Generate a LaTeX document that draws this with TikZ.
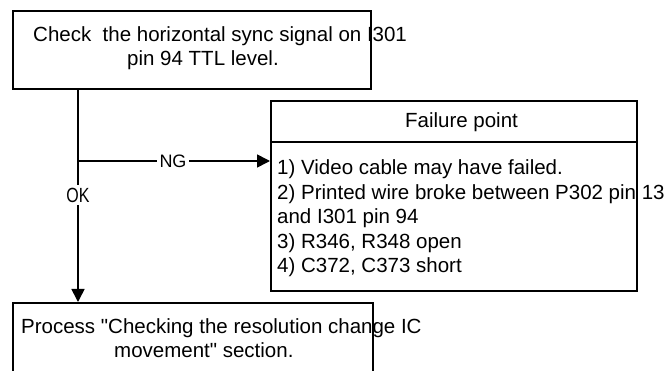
\documentclass[tikz,border=0pt]{standalone}
\usepackage{fontspec}
\setmainfont{Liberation Sans}
\usetikzlibrary{arrows.meta}
\begin{document}
\begin{tikzpicture}[x=1pt,y=-1pt,
  box/.style={draw, line width=1.6pt, inner sep=0pt, anchor=north west},
  txt/.style={font=\fontsize{20.5}{24}\selectfont, inner sep=0pt, anchor=base west},
  lbl/.style={font=\fontsize{18}{20}\selectfont, fill=white, inner sep=2.5pt},
  wire/.style={line width=1.6pt},
  flow/.style={wire, -{Triangle[length=13pt,width=13pt]}}]
\useasboundingbox (0,0) rectangle (669,371);

% boxes
\node[box, minimum width=358pt, minimum height=78pt] (check) at (12,10) {};
\node[box, minimum width=366pt, minimum height=190pt] (failure) at (270,100) {};
\draw[wire] ([yshift=-42pt]failure.north west) -- ([yshift=-42pt]failure.north east);
\node[box, minimum width=360pt, minimum height=90pt] (proc) at (12,302) {};

% box texts
\node[txt] (c1) at (33,42) {Check\ \ the horizontal sync signal on I301};
\node[txt] (c2) at (127,66) {pin 94 TTL level.};
\node[txt, anchor=base] (ftitle) at (461.5,128) {Failure point};
\node[txt] (f1) at (277,175) {1) Video cable may have failed.};
\node[txt] (f2) at (277,199.4) {2) Printed wire broke between P302 pin 13};
\node[txt] (f3) at (277,223.8) {and I301 pin 94};
\node[txt] (f4) at (277,248.2) {3) R346, R348 open};
\node[txt] (f5) at (277,272.6) {4) C372, C373 short};
\node[txt] (p1) at (21,333) {Process \textquotedbl Checking the resolution change IC};
\node[txt] (p2) at (114,357) {movement\textquotedbl{} section.};

% connectors
\coordinate (split) at (78,161);
\node[lbl] (ng) at (173,161) {NG};
\node[lbl, font=\fontsize{20.5}{22}\selectfont, transform shape, xscale=0.78] (ok) at (78,195) {OK};
\draw[wire] (check.south -| split) -- (ok.north);
\draw[flow] (ok.south) -- (proc.north -| split);
\draw[wire] (split) -- (ng.west);
\draw[flow] (ng.east) -- (failure.west |- split);
\end{tikzpicture}
\end{document}
